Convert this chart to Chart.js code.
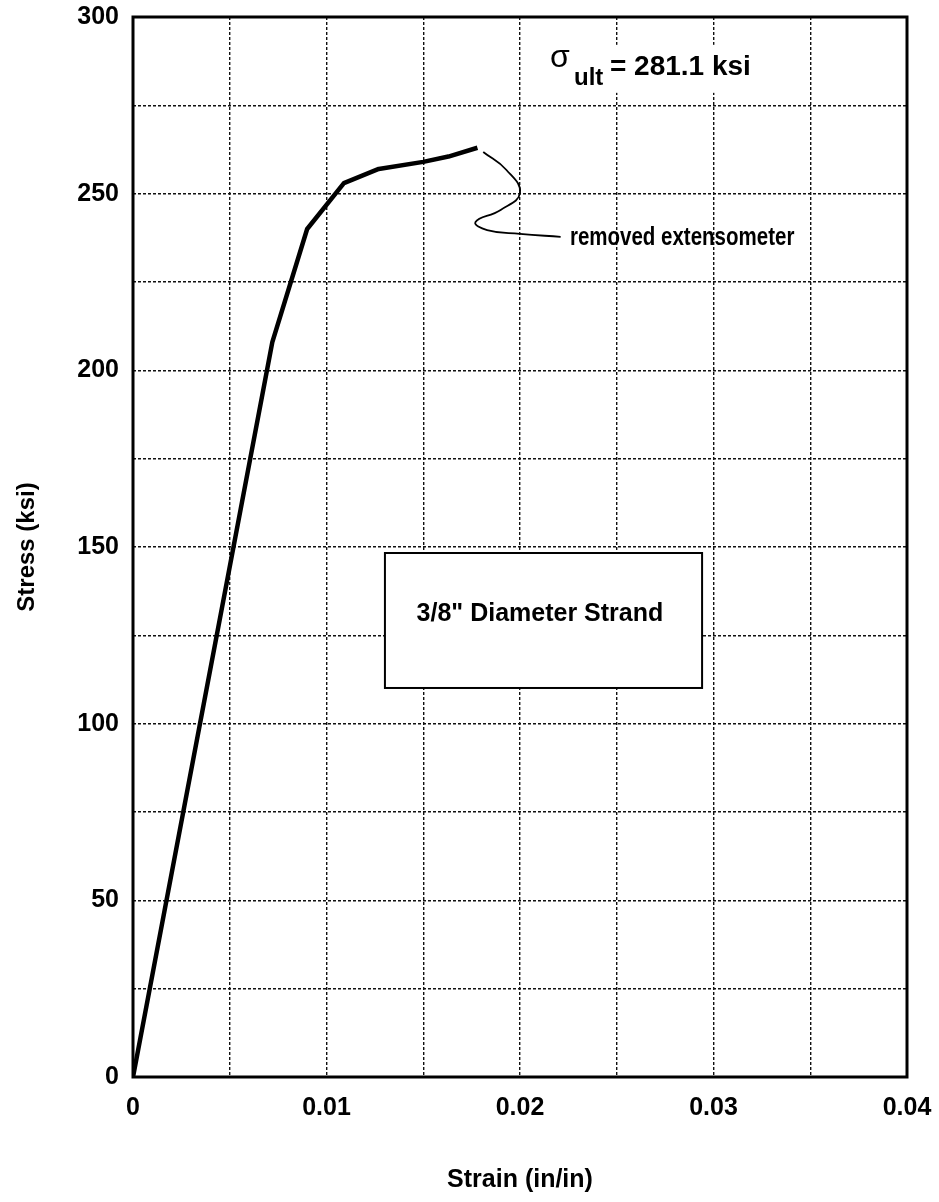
<!DOCTYPE html>
<html>
<head>
<meta charset="utf-8">
<script src="https://cdn.jsdelivr.net/npm/chart.js@4.4.0/dist/chart.umd.min.js"></script>
<style>
  html, body { margin: 0; padding: 0; background: #fff; }
  #wrap { width: 939px; height: 1202px; }
</style>
</head>
<body>
<div id="wrap"><canvas id="stressChart"></canvas></div>
<script>
// stress-strain curve
const strain = [0, 0.0072, 0.0090, 0.0109, 0.0127, 0.0150, 0.0163, 0.0178];
const stress = [0, 208, 240, 253, 257, 259, 260.5, 263];

// hand drawn leader line to the "removed extensometer" note
const leaderStrain = [0.0181, 0.0193, 0.0200, 0.0190, 0.0177, 0.0183, 0.0200, 0.0221];
const leaderStress = [261.8, 256.7, 250.2, 245.4, 242.0, 239.7, 238.6, 237.8];

const xTickValues = [0, 0.01, 0.02, 0.03, 0.04];
const xTickLabels = ["0", "0.01", "0.02", "0.03", "0.04"];
const yTickValues = [0, 50, 100, 150, 200, 250, 300];
const yTickLabels = ["0", "50", "100", "150", "200", "250", "300"];

const FONT = '"Liberation Sans", Arial, Helvetica, sans-serif';

function toPoints(xs, ys) {
  return xs.map((v, i) => ({ x: v, y: ys[i] }));
}

function pickLabel(values, labels, value) {
  const idx = values.findIndex((v) => Math.abs(v - value) < 1e-9);
  return idx >= 0 ? labels[idx] : "";
}

// scales ask for room for their end labels; the outer padding handles that here
function dropScalePadding(scale) {
  scale.paddingTop = 0;
  scale.paddingBottom = 0;
  scale.paddingLeft = 0;
  scale.paddingRight = 0;
}

const notes = {
  box: { x0: 0.01302, x1: 0.02941, y0: 110.1, y1: 148.3, text: '3/8" Diameter Strand', tx: 0.02103, ty: 131 },
  sigma: { x: 0.02165, y: 285.9 },
  sub: { x: 0.02279, y: 280.8 },
  value: { x: 0.02465, y: 283.6, text: "= 281.1 ksi" },
  removed: { x: 0.02258, y: 235.5, text: "removed extensometer" },
};

const decorPlugin = {
  id: "decor",
  beforeDatasetsDraw(chart) {
    const { ctx, scales } = chart;
    const x = scales.x;
    const y = scales.y;
    ctx.save();

    // label box
    const l = x.getPixelForValue(notes.box.x0);
    const r = x.getPixelForValue(notes.box.x1);
    const t = y.getPixelForValue(notes.box.y1);
    const b = y.getPixelForValue(notes.box.y0);
    ctx.fillStyle = "#fff";
    ctx.fillRect(l, t, r - l, b - t);
    ctx.strokeStyle = "#000";
    ctx.lineWidth = 2;
    ctx.strokeRect(l, t, r - l, b - t);
    ctx.fillStyle = "#000";
    ctx.font = "bold 25px " + FONT;
    ctx.textAlign = "center";
    ctx.textBaseline = "middle";
    ctx.fillText(notes.box.text, x.getPixelForValue(notes.box.tx), y.getPixelForValue(notes.box.ty));

    // sigma_ult note, white behind it
    const sx = x.getPixelForValue(notes.sigma.x);
    const sy = y.getPixelForValue(notes.sigma.y);
    ctx.fillStyle = "#fff";
    ctx.fillRect(sx - 6, sy - 22, 206, 48);
    ctx.fillStyle = "#000";
    ctx.textAlign = "left";
    ctx.textBaseline = "alphabetic";
    ctx.font = "32px " + FONT;
    ctx.fillText("\u03c3", sx - 2, sy);
    ctx.font = "bold 24px " + FONT;
    ctx.fillText("ult", x.getPixelForValue(notes.sub.x), y.getPixelForValue(notes.sub.y));
    ctx.font = "bold 28px " + FONT;
    ctx.fillText(notes.value.text, x.getPixelForValue(notes.value.x), y.getPixelForValue(notes.value.y));

    // removed extensometer note (narrow lettering)
    const rx = x.getPixelForValue(notes.removed.x);
    const ry = y.getPixelForValue(notes.removed.y);
    ctx.save();
    ctx.translate(rx, ry);
    ctx.scale(0.82, 1);
    ctx.font = "bold 25px " + FONT;
    ctx.fillText(notes.removed.text, 0, 0);
    ctx.restore();

    ctx.restore();
  },
  afterDatasetsDraw(chart) {
    const { ctx, chartArea } = chart;
    ctx.save();
    ctx.strokeStyle = "#000";
    ctx.lineWidth = 3;
    ctx.strokeRect(chartArea.left, chartArea.top, chartArea.right - chartArea.left, chartArea.bottom - chartArea.top);
    ctx.restore();
  },
};

new Chart(document.getElementById("stressChart"), {
  type: "line",
  data: {
    datasets: [
      {
        label: "Stress",
        data: toPoints(strain, stress),
        borderColor: "#000",
        borderWidth: 4.5,
        pointRadius: 0,
        tension: 0,
        borderJoinStyle: "round",
      },
      {
        label: "Leader",
        data: toPoints(leaderStrain, leaderStress),
        borderColor: "#000",
        borderWidth: 1.8,
        pointRadius: 0,
        tension: 0.45,
      },
    ],
  },
  options: {
    responsive: true,
    maintainAspectRatio: false,
    animation: false,
    events: [],
    layout: { padding: { left: 0, right: 32, top: 17, bottom: 0 } },
    plugins: {
      legend: { display: false },
      tooltip: { enabled: false },
    },
    scales: {
      x: {
        type: "linear",
        min: 0,
        max: 0.04,
        afterFit(scale) {
          scale.height = 125;
          dropScalePadding(scale);
        },
        ticks: {
          stepSize: 0.005,
          autoSkip: false,
          maxRotation: 0,
          color: "#000",
          padding: 16,
          font: { family: FONT, size: 25, weight: "bold" },
          callback: (value) => pickLabel(xTickValues, xTickLabels, value),
        },
        grid: { color: "#111", lineWidth: 1.4, drawTicks: false },
        border: { display: false, dash: [3, 2] },
        title: {
          display: true,
          text: "Strain (in/in)",
          color: "#000",
          font: { family: FONT, size: 25, weight: "bold" },
          padding: { top: 0, bottom: 7 },
        },
      },
      y: {
        type: "linear",
        min: 0,
        max: 300,
        afterFit(scale) {
          scale.width = 133;
          dropScalePadding(scale);
        },
        ticks: {
          stepSize: 25,
          autoSkip: false,
          color: "#000",
          padding: 14,
          font: { family: FONT, size: 25, weight: "bold" },
          callback: (value) => pickLabel(yTickValues, yTickLabels, value),
        },
        grid: { color: "#111", lineWidth: 1.4, drawTicks: false },
        border: { display: false, dash: [3, 2] },
        title: {
          display: true,
          text: "Stress (ksi)",
          color: "#000",
          font: { family: FONT, size: 24, weight: "bold" },
          padding: { top: 13, bottom: 0 },
        },
      },
    },
  },
  plugins: [decorPlugin],
});
</script>
</body>
</html>
